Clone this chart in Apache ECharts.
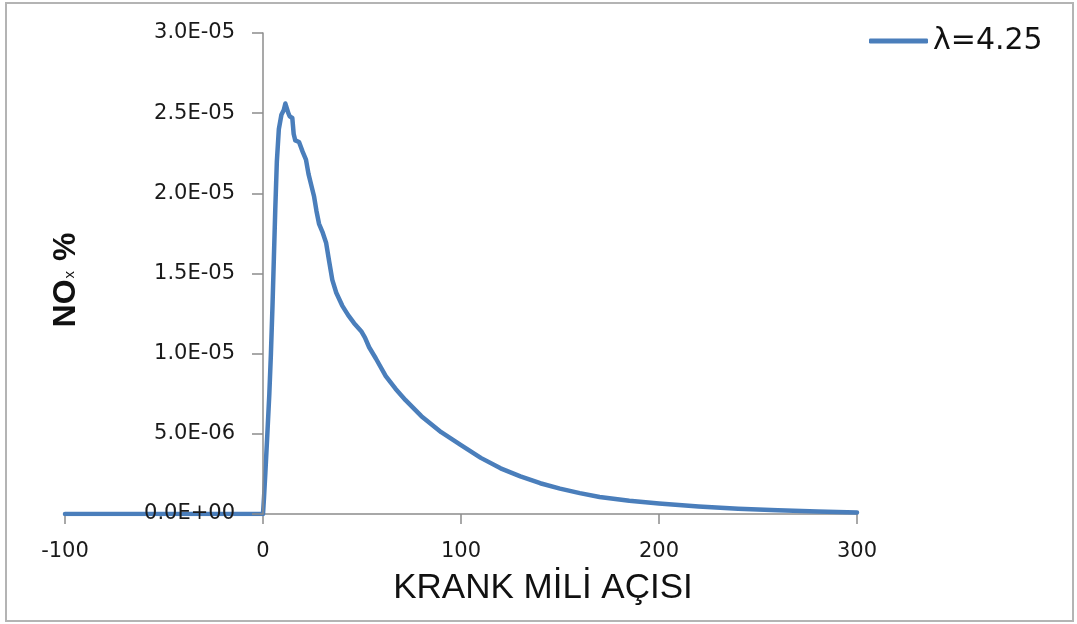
<!DOCTYPE html>
<html>
<head>
<meta charset="utf-8">
<script src="https://cdn.jsdelivr.net/npm/echarts@6/dist/echarts.min.js"></script>
<style>
html,body{margin:0;padding:0;background:#fff;}
#c{width:1077px;height:624px;}
</style>
</head>
<body>
<div id="c"></div>
<script>
// crank angle (degrees)
const crankAngle = [-100, 0, 0.5, 1.2, 2.2, 3.2, 4.0, 4.8, 5.5, 6.2, 7.0, 8.0, 9.3, 10.5, 11.3, 12.1, 12.8, 13.5, 14.8, 15.5, 16.3, 18.2, 20, 21.7, 23, 24.2, 25.8, 27, 28.3, 30, 31.9, 33.5, 35, 37, 40, 43, 46, 49.6, 51.5, 53.6, 57, 62, 67, 72, 80, 90, 100, 110, 120, 130, 140, 150, 160, 170, 185, 200, 220, 240, 260, 280, 300];
// NOx %
const noxValues = [0, 0, 1.0e-6, 2.6e-6, 5.0e-6, 7.5e-6, 1.0e-5, 1.3e-5, 1.6e-5, 1.9e-5, 2.2e-5, 2.40e-5, 2.49e-5, 2.52e-5, 2.56e-5, 2.57e-5, 2.50e-5, 2.48e-5, 2.47e-5, 2.37e-5, 2.33e-5, 2.32e-5, 2.26e-5, 2.21e-5, 2.12e-5, 2.06e-5, 1.98e-5, 1.89e-5, 1.81e-5, 1.76e-5, 1.69e-5, 1.57e-5, 1.46e-5, 1.38e-5, 1.30e-5, 1.24e-5, 1.19e-5, 1.14e-5, 1.10e-5, 1.04e-5, 9.7e-6, 8.6e-6, 7.8e-6, 7.1e-6, 6.1e-6, 5.1e-6, 4.3e-6, 3.5e-6, 2.85e-6, 2.35e-6, 1.92e-6, 1.58e-6, 1.30e-6, 1.06e-6, 0.82e-6, 0.66e-6, 0.47e-6, 0.33e-6, 0.23e-6, 0.15e-6, 0.10e-6];
const yTickLabels = ['0.0E+00', '5.0E-06', '1.0E-05', '1.5E-05', '2.0E-05', '2.5E-05', '3.0E-05'];
const seriesName = 'λ=4.25';
const xTitle = 'KRANK MİLİ AÇISI';

const gridLeft = 65, gridWidth = 792, xMin = -100, xMax = 300;
const chart = echarts.init(document.getElementById('c'), null, {renderer: 'canvas'});
const axisGray = '#8c8c8c';
const labelFont = 'DejaVu Sans';
chart.setOption({
  animation: false,
  backgroundColor: '#fff',
  grid: {left: gridLeft, width: gridWidth, top: 33, bottom: 110, containLabel: false, outerBoundsMode: 'none'},
  legend: {
    left: 869, top: 26, padding: 0,
    icon: 'roundRect', itemWidth: 59, itemHeight: 5,
    data: [seriesName],
    textStyle: {fontFamily: 'DejaVu Sans', fontSize: 30, color: '#111'}
  },
  xAxis: {
    type: 'value', min: xMin, max: xMax, interval: 100,
    splitLine: {show: false},
    axisLine: {lineStyle: {color: axisGray, width: 1.5}},
    axisTick: {show: true, inside: false, length: 10, lineStyle: {color: axisGray, width: 1.5}},
    axisLabel: {margin: 27, fontFamily: labelFont, fontSize: 21, color: '#1a1a1a'}
  },
  yAxis: {
    type: 'value', min: 0, max: 3e-5, interval: 5e-6, z: 3,
    position: 'left',
    // place the y axis at crank angle 0
    offset: -gridWidth * (0 - xMin) / (xMax - xMin),
    splitLine: {show: false},
    axisLine: {onZero: false, lineStyle: {color: axisGray, width: 1.5}},
    axisTick: {show: true, length: 11, lineStyle: {color: axisGray, width: 1.5}},
    axisLabel: {
      margin: 28, fontFamily: labelFont, fontSize: 21, color: '#1a1a1a',
      formatter: function (v) { return yTickLabels[Math.round(v / 5e-6)] || ''; }
    }
  },
  series: [{
    name: seriesName,
    type: 'line',
    z: 1,
    showSymbol: false,
    symbol: 'none',
    data: crankAngle.map((x, i) => [x, noxValues[i]]),
    lineStyle: {color: '#4a7ebb', width: 4.5, cap: 'round', join: 'round'},
    itemStyle: {color: '#4a7ebb'}
  }],
  graphic: [
    {type: 'rect', shape: {x: 6, y: 3, width: 1067, height: 618}, style: {fill: null, stroke: '#b4b4b4', lineWidth: 2}, silent: true},
    {type: 'text', x: 543, y: 588, style: {text: xTitle, fontFamily: 'Liberation Sans', fontSize: 35, fill: '#111', align: 'center', verticalAlign: 'middle'}},
    {type: 'text', x: 66, y: 280, rotation: Math.PI / 2,
      style: {
        text: '{a|NO}{b|x}{a| %}', align: 'center', verticalAlign: 'middle',
        rich: {
          a: {fontFamily: 'Liberation Sans', fontWeight: 'bold', fontSize: 32, fill: '#111', color: '#111', lineHeight: 34},
          b: {fontFamily: 'Liberation Sans', fontSize: 15, fill: '#111', color: '#111', lineHeight: 34, verticalAlign: 'bottom', padding: [0, 1, 6, 1]}
        }
      }}
  ]
});
</script>
</body>
</html>
